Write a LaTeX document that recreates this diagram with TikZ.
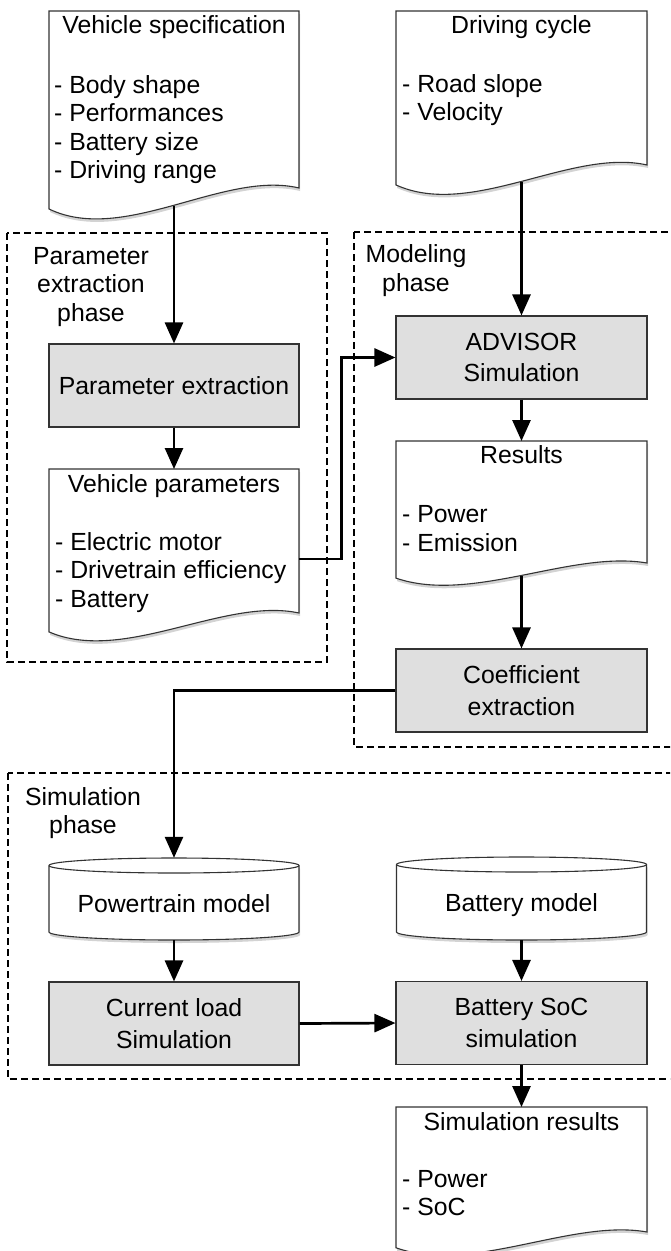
\documentclass[tikz,border=0pt]{standalone}
\usepackage{fontspec}
\setmainfont{Liberation Sans}
\usetikzlibrary{arrows.meta,shadows}
\newcommand\docpath[5]{% L T R yR f
  \path[shapeline, fill=white, docshadow] (#1,#2) -- (#3,#2) -- (#3,#4)
   .. controls ({#1+0.7*(#3-#1)},{#4-18*#5}) and ({#1+0.3*(#3-#1)},{#4+57*#5}) .. (#1,{#4+21*#5}) -- cycle;}
\newcommand\cylpath[4]{% L T R B
  \path[shapeline, fill=white, docshadow] (#1,{#2+7.5}) -- (#1,{#4-8})
    arc[start angle=180, end angle=360, x radius=125pt, y radius=8pt]
    -- (#3,{#2+7.5})
    arc[start angle=0, end angle=180, x radius=125pt, y radius=7.5pt] -- cycle;
  \draw[shapeline] (#1,{#2+7.5}) arc[start angle=180, end angle=360, x radius=125pt, y radius=7.5pt];}
\begin{document}
\begin{tikzpicture}[x=1pt,y=-1pt,
  docfont/.style={font=\fontsize{24.8}{28.5}\selectfont},
  boxfont/.style={font=\fontsize{24.8}{31.5}\selectfont},
  shapeline/.style={draw=black!80, line width=1.1pt},
  procbox/.style={shapeline, boxfont, fill=gray!25, minimum width=250pt, minimum height=83pt, align=center, inner sep=0pt},
  anchorbox/.style={draw=none, minimum width=250pt, inner sep=0pt},
  doctext/.style={docfont, inner sep=0pt},
  phasebox/.style={draw=black, line width=1.1pt, dash pattern=on 7pt off 4pt},
  docshadow/.style={drop shadow={opacity=0.35, shadow xshift=1pt, shadow yshift=-3pt}},
  arrow/.style={line width=2.7pt, -{Triangle[width=18pt,length=21pt]}},
]
\useasboundingbox (0,0) rectangle (670,1251);
\clip (0,0) rectangle (670,1251);

% phase boxes
\draw[phasebox] (7,233) rectangle (327,662);
\draw[phasebox] (354,232) rectangle (700,747);
\draw[phasebox] (8,773) rectangle (700,1079);
\node[doctext, align=center, anchor=base] (lpe) at (91,321) {Parameter\\extraction\\phase};
\node[doctext, align=center, anchor=base] (lmod) at (416,291) {Modeling\\phase};
\node[doctext, align=center, anchor=base] (lsim) at (83,833.5) {Simulation\\phase};

% Vehicle specification
\docpath{49}{11}{299}{188}{1}
\node[anchorbox, minimum height=194.25pt, anchor=north] (vs) at (174,11) {};
\node[doctext, anchor=base] (vst) at (174,33) {Vehicle specification};
\node[doctext, anchor=base west, align=left] (vsi) at (54,178.5) {- Body shape\\- Performances\\- Battery size\\- Driving range};

% Driving cycle
\docpath{396}{11}{647}{165}{0.95}
\node[anchorbox, minimum width=251pt, minimum height=170.4pt, anchor=north] (dc) at (521.5,11) {};
\node[doctext, anchor=base] (dct) at (521.5,33) {Driving cycle};
\node[doctext, anchor=base west, align=left] (dci) at (402,120.5) {- Road slope\\- Velocity};

% Parameter extraction
\node[procbox] (pe) at (174,385.5) {Parameter extraction};

% Vehicle parameters
\docpath{49}{469}{299}{613}{0.9}
\node[anchorbox, minimum height=159.5pt, anchor=north] (vp) at (174,469) {};
\node[doctext, anchor=base] (vpt) at (174,492) {Vehicle parameters};
\node[doctext, anchor=base west, align=left] (vpi) at (55,607) {- Electric motor\\- Drivetrain efficiency\\- Battery};

% ADVISOR
\node[procbox, minimum width=251pt] (adv) at (521.5,357.5) {ADVISOR\\Simulation};

% Results
\docpath{396}{441}{647}{563}{0.72}
\node[anchorbox, minimum width=251pt, minimum height=134.4pt, anchor=north] (res) at (521.5,441) {};
\node[doctext, anchor=base] (rest) at (521.5,463) {Results};
\node[doctext, anchor=base west, align=left] (resi) at (402,551) {- Power\\- Emission};

% Coefficient extraction
\node[procbox, minimum width=251pt] (coef) at (521.5,690.5) {Coefficient\\extraction};

% Powertrain model
\cylpath{49}{858}{299}{940}
\node[anchorbox, minimum height=82pt] (pt) at (174,899) {};
\node[doctext, anchor=base] (ptt) at (174,912) {Powertrain model};

% Battery model
\cylpath{396.5}{857}{646.5}{940}
\node[anchorbox, minimum height=83pt] (bm) at (521.5,898.5) {};
\node[doctext, anchor=base] (bmt) at (521.5,911) {Battery model};

% Current load / Battery SoC
\node[procbox] (cl) at (174,1023.5) {Current load\\Simulation};
\node[procbox, minimum width=251pt] (soc) at (521.5,1023) {Battery SoC\\simulation};

% Simulation results
\docpath{396}{1107}{647}{1232}{0.75}
\node[anchorbox, minimum width=251pt, minimum height=137.9pt, anchor=north] (sr) at (521.5,1107) {};
\node[doctext, anchor=base] (srt) at (521.5,1130) {Simulation results};
\node[doctext, anchor=base west, align=left] (sri) at (402,1215.5) {- Power\\- SoC};

% connectors
\draw[arrow] (vs.south) -- (pe.north);
\draw[arrow] (pe.south) -- (vp.north);
\draw[arrow] ([yshift=-10pt]vp.east) -- ++(42,0) |- (adv.west);
\draw[arrow] (dc.south) -- (adv.north);
\draw[arrow] (adv.south) -- (res.north);
\draw[arrow] (res.south) -- (coef.north);
\draw[arrow] (coef.west) -| (pt.north);
\draw[arrow] (pt.south) -- (cl.north);
\draw[arrow] (bm.south) -- (soc.north);
\draw[arrow] (cl.east) -- (soc.west);
\draw[arrow] (soc.south) -- (sr.north);
\end{tikzpicture}
\end{document}
